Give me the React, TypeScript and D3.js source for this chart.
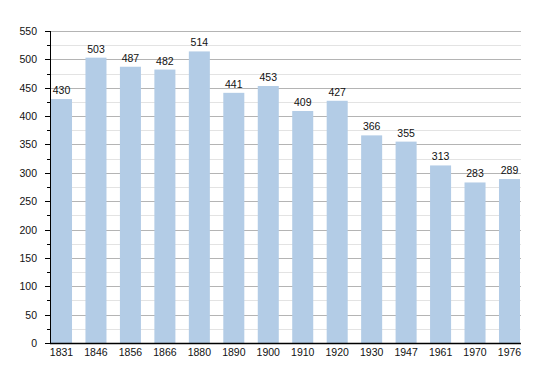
import React, { useEffect, useRef } from 'react';
import * as d3 from 'd3';

const years = ['1831', '1846', '1856', '1866', '1880', '1890', '1900', '1910', '1920', '1930', '1947', '1961', '1970', '1976'];
const population = [430, 503, 487, 482, 514, 441, 453, 409, 427, 366, 355, 313, 283, 289];
const yTicks = [0, 50, 100, 150, 200, 250, 300, 350, 400, 450, 500, 550];

const App = () => {
  const ref = useRef<SVGSVGElement>(null);

  useEffect(() => {
    const svg = d3.select(ref.current);
    svg.selectAll('*').remove();

    const left = 50;
    const right = 521;
    const top = 31;
    const bottom = 343;
    const font = '"Liberation Sans", Arial, sans-serif';
    const fs = 10.5;

    const x = d3
      .scaleBand()
      .domain(years)
      .range([left + 1, right - 1])
      .paddingInner(0.39)
      .paddingOuter(0);

    const y = d3.scaleLinear().domain([0, 550]).range([bottom, top]);

    // minor grid every 25
    const minor = d3.range(25, 550, 50);
    svg
      .selectAll('.minor')
      .data(minor)
      .enter()
      .append('line')
      .attr('x1', left)
      .attr('x2', right)
      .attr('y1', (d) => Math.round(y(d)) + 0.5)
      .attr('y2', (d) => Math.round(y(d)) + 0.5)
      .attr('stroke', '#e3e3e3');

    // major grid
    svg
      .selectAll('.major')
      .data(yTicks.filter((d) => d > 0))
      .enter()
      .append('line')
      .attr('x1', left)
      .attr('x2', right)
      .attr('y1', (d) => Math.round(y(d)) + 0.5)
      .attr('y2', (d) => Math.round(y(d)) + 0.5)
      .attr('stroke', '#b4b4b4');

    // bars
    svg
      .selectAll('.bar')
      .data(population)
      .enter()
      .append('rect')
      .attr('x', (d, i) => x(years[i])!)
      .attr('y', (d) => y(d))
      .attr('width', x.bandwidth())
      .attr('height', (d) => bottom - y(d))
      .attr('fill', '#b3cce6');

    // value labels
    svg
      .selectAll('.val')
      .data(population)
      .enter()
      .append('text')
      .attr('x', (d, i) => x(years[i])! + x.bandwidth() / 2)
      .attr('y', (d) => y(d) - 5)
      .attr('text-anchor', 'middle')
      .attr('font-family', font)
      .attr('font-size', fs)
      .attr('fill', '#111')
      .text((d) => d);

    // y axis ticks & labels
    svg
      .selectAll('.ytick')
      .data(yTicks)
      .enter()
      .append('line')
      .attr('x1', left - 5)
      .attr('x2', left)
      .attr('y1', (d) => Math.round(y(d)) + 0.5)
      .attr('y2', (d) => Math.round(y(d)) + 0.5)
      .attr('stroke', '#000');

    svg
      .selectAll('.yminor')
      .data(minor)
      .enter()
      .append('line')
      .attr('x1', left - 3)
      .attr('x2', left)
      .attr('y1', (d) => Math.round(y(d)) + 0.5)
      .attr('y2', (d) => Math.round(y(d)) + 0.5)
      .attr('stroke', '#000');

    svg
      .selectAll('.ylab')
      .data(yTicks)
      .enter()
      .append('text')
      .attr('x', 37)
      .attr('y', (d) => y(d) + 4)
      .attr('text-anchor', 'end')
      .attr('font-family', font)
      .attr('font-size', fs)
      .attr('fill', '#111')
      .text((d) => d);

    // x labels
    svg
      .selectAll('.xlab')
      .data(years)
      .enter()
      .append('text')
      .attr('x', (d) => x(d)! + x.bandwidth() / 2)
      .attr('y', 356)
      .attr('text-anchor', 'middle')
      .attr('font-family', font)
      .attr('font-size', fs)
      .attr('fill', '#111')
      .text((d) => d);

    // axis lines
    svg
      .append('line')
      .attr('x1', left + 0.5)
      .attr('x2', left + 0.5)
      .attr('y1', top)
      .attr('y2', bottom + 1)
      .attr('stroke', '#000');
    svg
      .append('line')
      .attr('x1', left)
      .attr('x2', right)
      .attr('y1', bottom + 0.5)
      .attr('y2', bottom + 0.5)
      .attr('stroke', '#000')
      .attr('stroke-width', 1.5);
  }, []);

  return (
    <svg
      ref={ref}
      width={550}
      height={373}
      style={{ position: 'absolute', left: 0, top: 0, background: '#fff' }}
    />
  );
};

export default App;
